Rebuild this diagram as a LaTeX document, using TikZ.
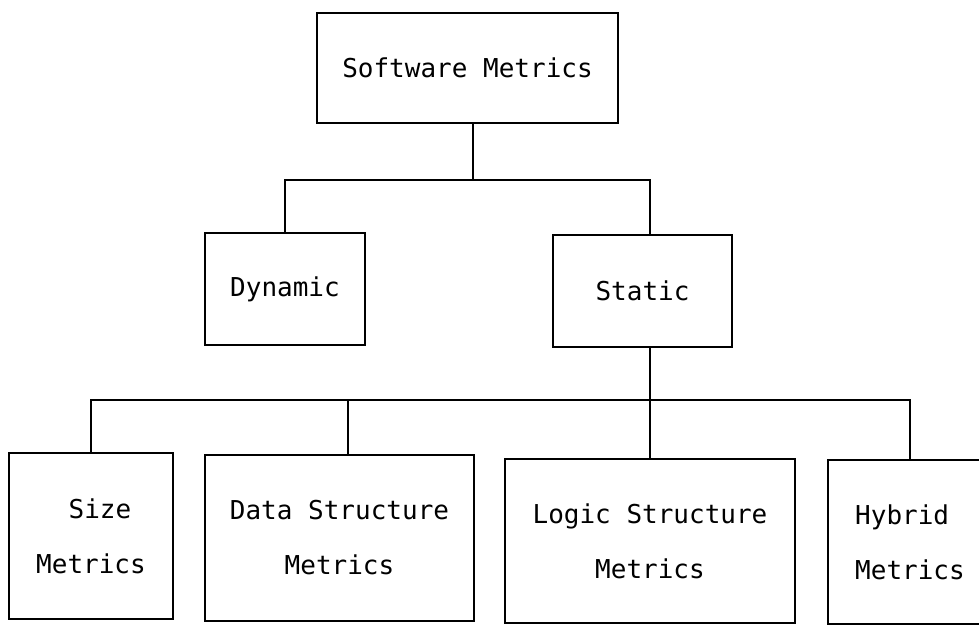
\documentclass[tikz,border=0pt]{standalone}
\usepackage{fontspec}
\setmonofont{DejaVu Sans Mono}
\begin{document}
\begin{tikzpicture}[x=1pt,y=-1pt,
  box/.style={draw, line width=2.4pt, inner sep=0pt, align=center,
    font=\ttfamily\fontsize{26}{55}\selectfont},
  link/.style={line width=2.2pt}]
\clip (0,0) rectangle (979,625);
\fill[white] (0,0) rectangle (979,625);
% nodes
\node[box, minimum width=301pt, minimum height=110pt] (sm) at (467.5,68) {Software Metrics};
\node[box, minimum width=160pt, minimum height=112pt] (dyn) at (285,289) {Dynamic};
\node[box, minimum width=179pt, minimum height=112pt] (stat) at (642.5,291) {Static};
\node[box, minimum width=164pt, minimum height=166pt] (size) at (91,536) {\hspace*{18pt}Size\\Metrics};
\node[box, minimum width=269pt, minimum height=166pt] (data) at (339.5,538) {Data Structure\\Metrics};
\node[box, minimum width=290pt, minimum height=164pt] (logic) at (650,541) {Logic Structure\\Metrics};
\node[box, align=left, minimum width=164pt, minimum height=164pt] (hyb) at (910,542) {Hybrid\\Metrics};
% junctions
\coordinate (j1) at (473,180);
\coordinate (j2) at (650,400);
\coordinate (j3) at (348,400);
% connectors
\draw[link] (sm.south -| j1) -- (j1);
\draw[link] (dyn.north) |- (j1);
\draw[link] (j1) -| (stat.north -| j2);
\draw[link] (stat.south -| j2) -- (j2);
\draw[link] (size.north) |- (j2);
\draw[link] (j2) -| (hyb.north);
\draw[link] (j3) -- (data.north -| j3);
\draw[link] (j2) -- (logic.north);
\end{tikzpicture}
\end{document}
